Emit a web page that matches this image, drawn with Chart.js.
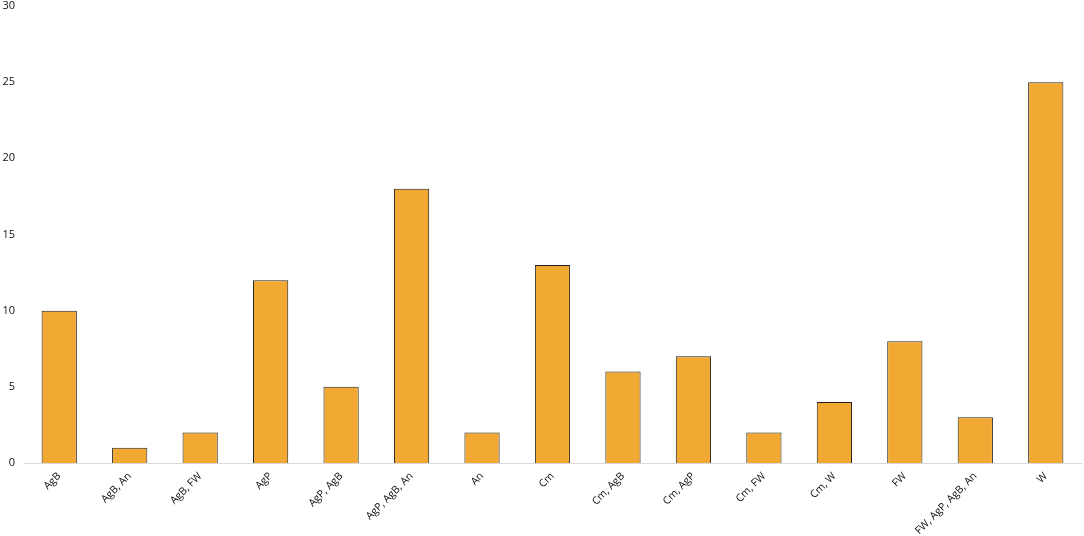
<!DOCTYPE html>
<html>
<head>
<meta charset="utf-8">
<script src="https://cdn.jsdelivr.net/npm/chart.js@4"></script>
<style>
  html, body { margin: 0; padding: 0; background: #fff; }
  #wrap { width: 1084px; height: 536px; }
</style>
</head>
<body>
<div id="wrap"><canvas id="myChart" width="1084" height="536"></canvas></div>
<script>
const categories = ['AgB', 'AgB, An', 'AgB, FW', 'AgP', 'AgP, AgB', 'AgP, AgB, An', 'An', 'Cm',
    'Cm, AgB', 'Cm, AgP', 'Cm, FW', 'Cm, W', 'FW', 'FW, AgP, AgB, An', 'W'];
const counts = [10, 1, 2, 12, 5, 18, 2, 13, 6, 7, 2, 4, 8, 3, 25];
const yTicks = [0, 5, 10, 15, 20, 25, 30];

const canvas = document.getElementById('myChart');
const ctx = canvas.getContext('2d');

let chart = new Chart(ctx, {
    type: 'bar',
    data: {
        labels: categories,
        datasets: [{
            data: counts,
            backgroundColor: '#F2A934',
            borderColor: '#222222',
            borderWidth: 1,
            barPercentage: 0.5,
            categoryPercentage: 1.0
        }]
    },
    options: {
        responsive: false,
        animation: false,
        layout: { padding: { top: 0, right: 3, left: 0, bottom: 0 } },
        plugins: {
            legend: { display: false },
            tooltip: { enabled: false }
        },
        scales: {
            x: {
                grid: { display: false },
                border: { display: true, color: '#D9D9D9', width: 1 },
                ticks: {
                    color: '#111111',
                    font: { family: 'Open Sans', size: 10.5 },
                    minRotation: 45,
                    maxRotation: 45,
                    autoSkip: false,
                    padding: -1
                },
                afterFit: function (axis) {
                    axis.height = 73;
                    axis.paddingTop = 0;
                }
            },
            y: {
                min: 0,
                max: 30,
                grid: { display: false, drawTicks: false },
                border: { display: false },
                afterBuildTicks: function (axis) {
                    axis.ticks = yTicks.map(function (v) { return { value: v }; });
                },
                ticks: {
                    color: '#111111',
                    font: { family: 'Open Sans', size: 11 },
                    padding: 9
                },
                afterFit: function (axis) {
                    axis.width = 24;
                    axis.paddingTop = 6;
                }
            }
        }
    }
});
</script>
</body>
</html>
